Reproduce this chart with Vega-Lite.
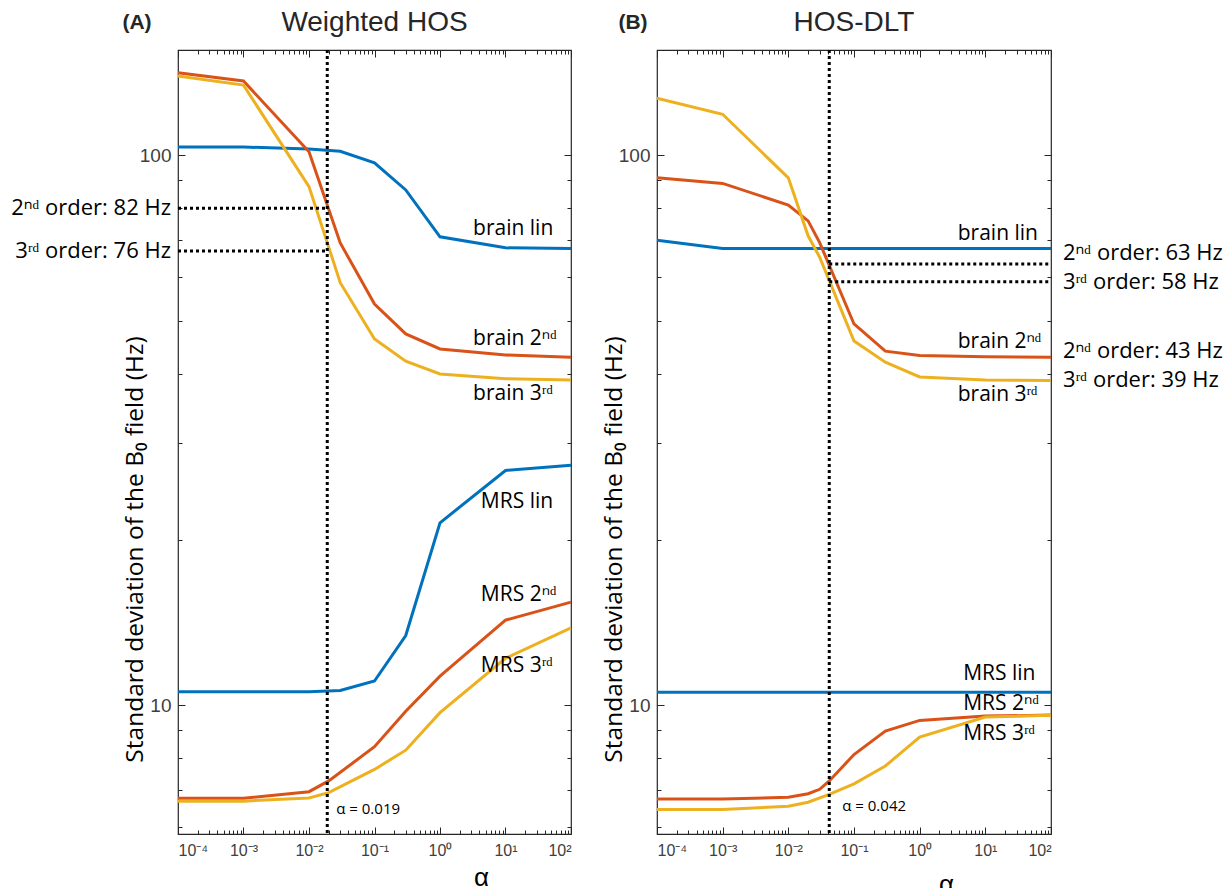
{
  "$schema": "https://vega.github.io/schema/vega-lite/v6.json",
  "background": "white",
  "padding": {"left": 10, "top": 8, "right": 0, "bottom": 0},
  "spacing": 22,
  "config": {
    "view": {"stroke": "#262626", "strokeWidth": 1.2},
    "axis": {"grid": false, "domain": false, "tickColor": "#262626", "tickWidth": 1, "labelColor": "#404040", "labelFont": "Liberation Sans", "titleFont": "Open Sans", "titleFontWeight": "normal", "titleColor": "#000000"}
  },
  "datasets": {
    "curvesA": [
      {"alpha": 0.0001, "sd": 103.4, "series": "brain lin"}, {"alpha": 0.001, "sd": 103.4, "series": "brain lin"}, {"alpha": 0.01, "sd": 102.5, "series": "brain lin"}, {"alpha": 0.03, "sd": 101.6, "series": "brain lin"}, {"alpha": 0.1, "sd": 96.8, "series": "brain lin"}, {"alpha": 0.3, "sd": 86.4, "series": "brain lin"}, {"alpha": 1, "sd": 71.0, "series": "brain lin"}, {"alpha": 10, "sd": 67.8, "series": "brain lin"}, {"alpha": 100, "sd": 67.6, "series": "brain lin"},
      {"alpha": 0.0001, "sd": 141.1, "series": "brain 2nd"}, {"alpha": 0.001, "sd": 136.3, "series": "brain 2nd"}, {"alpha": 0.01, "sd": 101.4, "series": "brain 2nd"}, {"alpha": 0.03, "sd": 69.2, "series": "brain 2nd"}, {"alpha": 0.1, "sd": 53.6, "series": "brain 2nd"}, {"alpha": 0.3, "sd": 47.3, "series": "brain 2nd"}, {"alpha": 1, "sd": 44.4, "series": "brain 2nd"}, {"alpha": 10, "sd": 43.3, "series": "brain 2nd"}, {"alpha": 100, "sd": 42.9, "series": "brain 2nd"},
      {"alpha": 0.0001, "sd": 139.2, "series": "brain 3rd"}, {"alpha": 0.001, "sd": 134.0, "series": "brain 3rd"}, {"alpha": 0.01, "sd": 87.6, "series": "brain 3rd"}, {"alpha": 0.03, "sd": 58.6, "series": "brain 3rd"}, {"alpha": 0.1, "sd": 46.3, "series": "brain 3rd"}, {"alpha": 0.3, "sd": 42.2, "series": "brain 3rd"}, {"alpha": 1, "sd": 40.0, "series": "brain 3rd"}, {"alpha": 10, "sd": 39.2, "series": "brain 3rd"}, {"alpha": 100, "sd": 39.0, "series": "brain 3rd"},
      {"alpha": 0.0001, "sd": 10.57, "series": "MRS lin"}, {"alpha": 0.001, "sd": 10.57, "series": "MRS lin"}, {"alpha": 0.01, "sd": 10.57, "series": "MRS lin"}, {"alpha": 0.03, "sd": 10.63, "series": "MRS lin"}, {"alpha": 0.1, "sd": 11.06, "series": "MRS lin"}, {"alpha": 0.3, "sd": 13.38, "series": "MRS lin"}, {"alpha": 1, "sd": 21.45, "series": "MRS lin"}, {"alpha": 10, "sd": 26.7, "series": "MRS lin"}, {"alpha": 100, "sd": 27.3, "series": "MRS lin"},
      {"alpha": 0.0001, "sd": 6.77, "series": "MRS 2nd"}, {"alpha": 0.001, "sd": 6.77, "series": "MRS 2nd"}, {"alpha": 0.01, "sd": 6.96, "series": "MRS 2nd"}, {"alpha": 0.02, "sd": 7.28, "series": "MRS 2nd"}, {"alpha": 0.1, "sd": 8.40, "series": "MRS 2nd"}, {"alpha": 0.3, "sd": 9.75, "series": "MRS 2nd"}, {"alpha": 1, "sd": 11.29, "series": "MRS 2nd"}, {"alpha": 10, "sd": 14.27, "series": "MRS 2nd"}, {"alpha": 100, "sd": 15.39, "series": "MRS 2nd"},
      {"alpha": 0.0001, "sd": 6.69, "series": "MRS 3rd"}, {"alpha": 0.001, "sd": 6.69, "series": "MRS 3rd"}, {"alpha": 0.01, "sd": 6.78, "series": "MRS 3rd"}, {"alpha": 0.02, "sd": 6.93, "series": "MRS 3rd"}, {"alpha": 0.1, "sd": 7.64, "series": "MRS 3rd"}, {"alpha": 0.3, "sd": 8.28, "series": "MRS 3rd"}, {"alpha": 1, "sd": 9.69, "series": "MRS 3rd"}, {"alpha": 10, "sd": 12.16, "series": "MRS 3rd"}, {"alpha": 100, "sd": 13.82, "series": "MRS 3rd"}
    ],
    "curvesB": [
      {"alpha": 0.0001, "sd": 70.0, "series": "brain lin"}, {"alpha": 0.001, "sd": 67.6, "series": "brain lin"}, {"alpha": 0.01, "sd": 67.6, "series": "brain lin"}, {"alpha": 0.1, "sd": 67.6, "series": "brain lin"}, {"alpha": 1, "sd": 67.6, "series": "brain lin"}, {"alpha": 10, "sd": 67.6, "series": "brain lin"}, {"alpha": 100, "sd": 67.6, "series": "brain lin"},
      {"alpha": 0.0001, "sd": 90.9, "series": "brain 2nd"}, {"alpha": 0.001, "sd": 88.8, "series": "brain 2nd"}, {"alpha": 0.01, "sd": 81.1, "series": "brain 2nd"}, {"alpha": 0.02, "sd": 75.9, "series": "brain 2nd"}, {"alpha": 0.03, "sd": 69.3, "series": "brain 2nd"}, {"alpha": 0.1, "sd": 49.3, "series": "brain 2nd"}, {"alpha": 0.3, "sd": 44.0, "series": "brain 2nd"}, {"alpha": 1, "sd": 43.2, "series": "brain 2nd"}, {"alpha": 10, "sd": 43.0, "series": "brain 2nd"}, {"alpha": 100, "sd": 42.9, "series": "brain 2nd"},
      {"alpha": 0.0001, "sd": 126.8, "series": "brain 3rd"}, {"alpha": 0.001, "sd": 118.6, "series": "brain 3rd"}, {"alpha": 0.01, "sd": 90.9, "series": "brain 3rd"}, {"alpha": 0.02, "sd": 71.3, "series": "brain 3rd"}, {"alpha": 0.03, "sd": 65.2, "series": "brain 3rd"}, {"alpha": 0.1, "sd": 45.9, "series": "brain 3rd"}, {"alpha": 0.3, "sd": 42.0, "series": "brain 3rd"}, {"alpha": 1, "sd": 39.5, "series": "brain 3rd"}, {"alpha": 10, "sd": 39.0, "series": "brain 3rd"}, {"alpha": 100, "sd": 38.9, "series": "brain 3rd"},
      {"alpha": 0.0001, "sd": 10.55, "series": "MRS lin"}, {"alpha": 0.001, "sd": 10.55, "series": "MRS lin"}, {"alpha": 0.01, "sd": 10.55, "series": "MRS lin"}, {"alpha": 0.1, "sd": 10.55, "series": "MRS lin"}, {"alpha": 1, "sd": 10.55, "series": "MRS lin"}, {"alpha": 10, "sd": 10.55, "series": "MRS lin"}, {"alpha": 100, "sd": 10.55, "series": "MRS lin"},
      {"alpha": 0.0001, "sd": 6.75, "series": "MRS 2nd"}, {"alpha": 0.001, "sd": 6.75, "series": "MRS 2nd"}, {"alpha": 0.01, "sd": 6.80, "series": "MRS 2nd"}, {"alpha": 0.02, "sd": 6.90, "series": "MRS 2nd"}, {"alpha": 0.03, "sd": 7.03, "series": "MRS 2nd"}, {"alpha": 0.042, "sd": 7.28, "series": "MRS 2nd"}, {"alpha": 0.1, "sd": 8.13, "series": "MRS 2nd"}, {"alpha": 0.3, "sd": 8.97, "series": "MRS 2nd"}, {"alpha": 1, "sd": 9.38, "series": "MRS 2nd"}, {"alpha": 10, "sd": 9.55, "series": "MRS 2nd"}, {"alpha": 100, "sd": 9.59, "series": "MRS 2nd"},
      {"alpha": 0.0001, "sd": 6.46, "series": "MRS 3rd"}, {"alpha": 0.001, "sd": 6.46, "series": "MRS 3rd"}, {"alpha": 0.01, "sd": 6.55, "series": "MRS 3rd"}, {"alpha": 0.02, "sd": 6.66, "series": "MRS 3rd"}, {"alpha": 0.042, "sd": 6.88, "series": "MRS 3rd"}, {"alpha": 0.1, "sd": 7.19, "series": "MRS 3rd"}, {"alpha": 0.3, "sd": 7.75, "series": "MRS 3rd"}, {"alpha": 1, "sd": 8.75, "series": "MRS 3rd"}, {"alpha": 10, "sd": 9.51, "series": "MRS 3rd"}, {"alpha": 100, "sd": 9.58, "series": "MRS 3rd"}
    ],
    "vlineA": [{"alpha": 0.019}],
    "vlineB": [{"alpha": 0.042}],
    "hlineA": [{"a1": 0.0001, "a2": 0.019, "sd": 80.0}, {"a1": 0.0001, "a2": 0.019, "sd": 66.9}],
    "hlineB": [{"a1": 0.042, "a2": 100, "sd": 63.4}, {"a1": 0.042, "a2": 100, "sd": 58.8}],
    "labelsA": [
      {"alpha": 3.2, "sd": 73.4, "label": "brain lin"}, {"alpha": 3.2, "sd": 46.3, "label": "brain 2ⁿᵈ"}, {"alpha": 3.2, "sd": 36.8, "label": "brain 3ʳᵈ"},
      {"alpha": 4.2, "sd": 23.4, "label": "MRS lin"}, {"alpha": 4.2, "sd": 15.85, "label": "MRS 2ⁿᵈ"}, {"alpha": 4.2, "sd": 11.8, "label": "MRS 3ʳᵈ"}
    ],
    "labelsB": [
      {"alpha": 3.8, "sd": 71.8, "label": "brain lin"}, {"alpha": 3.8, "sd": 45.7, "label": "brain 2ⁿᵈ"}, {"alpha": 3.8, "sd": 36.6, "label": "brain 3ʳᵈ"},
      {"alpha": 4.6, "sd": 11.4, "label": "MRS lin"}, {"alpha": 4.6, "sd": 10.04, "label": "MRS 2ⁿᵈ"}, {"alpha": 4.6, "sd": 8.85, "label": "MRS 3ʳᵈ"}
    ],
    "alphaA": [{"alpha": 0.019, "sd": 6.47, "label": "α = 0.019"}],
    "alphaB": [{"alpha": 0.042, "sd": 6.55, "label": "α = 0.042"}],
    "sideA": [{"alpha": 0.0001, "sd": 80.0, "label": "2ⁿᵈ order: 82 Hz"}, {"alpha": 0.0001, "sd": 66.9, "label": "3ʳᵈ order: 76 Hz"}],
    "sideB": [{"alpha": 100, "sd": 66.4, "label": "2ⁿᵈ order: 63 Hz"}, {"alpha": 100, "sd": 58.8, "label": "3ʳᵈ order: 58 Hz"}, {"alpha": 100, "sd": 44.0, "label": "2ⁿᵈ order: 43 Hz"}, {"alpha": 100, "sd": 39.0, "label": "3ʳᵈ order: 39 Hz"}],
    "panelA": [{"alpha": 0.0001, "sd": 155.2, "label": "(A)"}],
    "panelB": [{"alpha": 0.0001, "sd": 155.2, "label": "(B)"}],
    "titleA": [{"alpha": 0.1, "sd": 155.2, "label": "Weighted HOS"}],
    "titleB": [{"alpha": 0.1, "sd": 155.2, "label": "HOS-DLT"}]
  },
  "hconcat": [
    {
      "width": 393, "height": 784,
      "resolve": {"axis": {"x": "independent", "y": "independent"}},
      "layer": [
        {
          "data": {"name": "curvesA"},
          "mark": {"type": "line", "strokeWidth": 3},
          "encoding": {
            "x": {"field": "alpha", "type": "quantitative", "scale": {"type": "log", "domain": [0.0001, 100], "nice": false},
              "axis": {"orient": "bottom", "values": [0.0001, 0.001, 0.01, 0.1, 1, 10, 100], "labelExpr": "datum.value < 0.0005 ? '10⁻⁴' : datum.value < 0.005 ? '10⁻³' : datum.value < 0.05 ? '10⁻²' : datum.value < 0.5 ? '10⁻¹' : datum.value < 5 ? '10⁰' : datum.value < 50 ? '10¹' : '10²'", "tickSize": -7, "labelPadding": 15, "labelFontSize": 16, "title": "α", "titleFont": "Liberation Sans", "titleFontSize": 26, "titleX": 303, "titleY": 51, "titleAlign": "center", "titleBaseline": "alphabetic"}},
            "y": {"field": "sd", "type": "quantitative", "scale": {"type": "log", "domain": [5.83, 155.2], "nice": false},
              "axis": {"orient": "left", "values": [10, 100], "format": "d", "tickSize": -7, "labelPadding": 14, "labelFontSize": 19, "title": "Standard deviation of the B₀ field (Hz)", "titleFontSize": 24.5, "titleAngle": -90, "titleX": -43, "titleY": 499, "titleAlign": "center", "titleBaseline": "middle"}},
            "color": {"field": "series", "type": "nominal", "legend": null,
              "scale": {"domain": ["brain lin", "brain 2nd", "brain 3rd", "MRS lin", "MRS 2nd", "MRS 3rd"], "range": ["#0072BD", "#D95319", "#EDB120", "#0072BD", "#D95319", "#EDB120"]}}
          }
        },
        {
          "data": {"name": "vlineA"},
          "mark": {"type": "rule", "strokeWidth": 3, "strokeDash": [3, 3], "color": "#000000"},
          "encoding": {
            "x": {"field": "alpha", "type": "quantitative", "scale": {"type": "log", "domain": [0.0001, 100], "nice": false},
              "axis": {"orient": "bottom", "values": [0.0002,0.0003,0.0004,0.0005,0.0006,0.0007,0.0008,0.0009,0.002,0.003,0.004,0.005,0.006,0.007,0.008,0.009,0.02,0.03,0.04,0.05,0.06,0.07,0.08,0.09,0.2,0.3,0.4,0.5,0.6,0.7,0.8,0.9,2,3,4,5,6,7,8,9,20,30,40,50,60,70,80,90], "labels": false, "tickSize": -4, "title": null}}
          }
        },
        {
          "data": {"name": "hlineA"},
          "mark": {"type": "rule", "strokeWidth": 3, "strokeDash": [3, 3], "color": "#000000"},
          "encoding": {
            "x": {"field": "a1", "type": "quantitative", "scale": {"type": "log", "domain": [0.0001, 100], "nice": false},
              "axis": {"orient": "top", "values": [0.0001, 0.001, 0.01, 0.1, 1, 10, 100], "labels": false, "tickSize": -7, "title": null}},
            "x2": {"field": "a2"},
            "y": {"field": "sd", "type": "quantitative", "scale": {"type": "log", "domain": [5.83, 155.2], "nice": false},
              "axis": {"orient": "left", "values": [6, 7, 8, 9, 20, 30, 40, 50, 60, 70, 80, 90], "labels": false, "tickSize": -4, "title": null}}
          }
        },
        {
          "data": {"name": "labelsA"},
          "mark": {"type": "text", "font": "Open Sans", "fontSize": 21, "align": "left", "baseline": "middle", "color": "#000000"},
          "encoding": {
            "x": {"field": "alpha", "type": "quantitative", "scale": {"type": "log", "domain": [0.0001, 100], "nice": false},
              "axis": {"orient": "top", "values": [0.0002,0.0003,0.0004,0.0005,0.0006,0.0007,0.0008,0.0009,0.002,0.003,0.004,0.005,0.006,0.007,0.008,0.009,0.02,0.03,0.04,0.05,0.06,0.07,0.08,0.09,0.2,0.3,0.4,0.5,0.6,0.7,0.8,0.9,2,3,4,5,6,7,8,9,20,30,40,50,60,70,80,90], "labels": false, "tickSize": -4, "title": null}},
            "y": {"field": "sd", "type": "quantitative", "scale": {"type": "log", "domain": [5.83, 155.2], "nice": false},
              "axis": {"orient": "right", "values": [10, 100], "labels": false, "tickSize": -7, "title": null}},
            "text": {"field": "label"}
          }
        },
        {
          "data": {"name": "alphaA"},
          "mark": {"type": "text", "font": "Open Sans", "fontSize": 15, "align": "left", "baseline": "middle", "dx": 9, "color": "#000000"},
          "encoding": {
            "x": {"field": "alpha", "type": "quantitative", "scale": {"type": "log", "domain": [0.0001, 100], "nice": false}, "axis": null},
            "y": {"field": "sd", "type": "quantitative", "scale": {"type": "log", "domain": [5.83, 155.2], "nice": false},
              "axis": {"orient": "right", "values": [6, 7, 8, 9, 20, 30, 40, 50, 60, 70, 80, 90], "labels": false, "tickSize": -4, "title": null}},
            "text": {"field": "label"}
          }
        },
        {
          "data": {"name": "sideA"},
          "mark": {"type": "text", "font": "Open Sans", "fontSize": 22, "align": "right", "baseline": "middle", "dx": -7, "color": "#000000"},
          "encoding": {
            "x": {"field": "alpha", "type": "quantitative", "scale": {"type": "log", "domain": [0.0001, 100], "nice": false}, "axis": null},
            "y": {"field": "sd", "type": "quantitative", "scale": {"type": "log", "domain": [5.83, 155.2], "nice": false}, "axis": null},
            "text": {"field": "label"}
          }
        },
        {
          "data": {"name": "panelA"},
          "mark": {"type": "text", "font": "Liberation Sans", "fontSize": 21, "fontWeight": "bold", "align": "center", "baseline": "middle", "dx": -41, "dy": -27, "color": "#262626"},
          "encoding": {
            "x": {"field": "alpha", "type": "quantitative", "scale": {"type": "log", "domain": [0.0001, 100], "nice": false}, "axis": null},
            "y": {"field": "sd", "type": "quantitative", "scale": {"type": "log", "domain": [5.83, 155.2], "nice": false}, "axis": null},
            "text": {"field": "label"}
          }
        },
        {
          "data": {"name": "titleA"},
          "mark": {"type": "text", "font": "Liberation Sans", "fontSize": 28, "align": "center", "baseline": "middle", "dy": -27, "color": "#262626"},
          "encoding": {
            "x": {"field": "alpha", "type": "quantitative", "scale": {"type": "log", "domain": [0.0001, 100], "nice": false}, "axis": null},
            "y": {"field": "sd", "type": "quantitative", "scale": {"type": "log", "domain": [5.83, 155.2], "nice": false}, "axis": null},
            "text": {"field": "label"}
          }
        }
      ]
    },
    {
      "width": 394, "height": 784,
      "resolve": {"axis": {"x": "independent", "y": "independent"}},
      "layer": [
        {
          "data": {"name": "curvesB"},
          "mark": {"type": "line", "strokeWidth": 3},
          "encoding": {
            "x": {"field": "alpha", "type": "quantitative", "scale": {"type": "log", "domain": [0.0001, 100], "nice": false},
              "axis": {"orient": "bottom", "values": [0.0001, 0.001, 0.01, 0.1, 1, 10, 100], "labelExpr": "datum.value < 0.0005 ? '10⁻⁴' : datum.value < 0.005 ? '10⁻³' : datum.value < 0.05 ? '10⁻²' : datum.value < 0.5 ? '10⁻¹' : datum.value < 5 ? '10⁰' : datum.value < 50 ? '10¹' : '10²'", "tickSize": -7, "labelPadding": 15, "labelFontSize": 16, "title": "α", "titleFont": "Liberation Sans", "titleFontSize": 26, "titleX": 289, "titleY": 58, "titleAlign": "center", "titleBaseline": "alphabetic"}},
            "y": {"field": "sd", "type": "quantitative", "scale": {"type": "log", "domain": [5.83, 155.2], "nice": false},
              "axis": {"orient": "left", "values": [10, 100], "format": "d", "tickSize": -7, "labelPadding": 14, "labelFontSize": 19, "title": "Standard deviation of the B₀ field (Hz)", "titleFontSize": 24.5, "titleAngle": -90, "titleX": -43, "titleY": 499, "titleAlign": "center", "titleBaseline": "middle"}},
            "color": {"field": "series", "type": "nominal", "legend": null,
              "scale": {"domain": ["brain lin", "brain 2nd", "brain 3rd", "MRS lin", "MRS 2nd", "MRS 3rd"], "range": ["#0072BD", "#D95319", "#EDB120", "#0072BD", "#D95319", "#EDB120"]}}
          }
        },
        {
          "data": {"name": "vlineB"},
          "mark": {"type": "rule", "strokeWidth": 3, "strokeDash": [3, 3], "color": "#000000"},
          "encoding": {
            "x": {"field": "alpha", "type": "quantitative", "scale": {"type": "log", "domain": [0.0001, 100], "nice": false},
              "axis": {"orient": "bottom", "values": [0.0002,0.0003,0.0004,0.0005,0.0006,0.0007,0.0008,0.0009,0.002,0.003,0.004,0.005,0.006,0.007,0.008,0.009,0.02,0.03,0.04,0.05,0.06,0.07,0.08,0.09,0.2,0.3,0.4,0.5,0.6,0.7,0.8,0.9,2,3,4,5,6,7,8,9,20,30,40,50,60,70,80,90], "labels": false, "tickSize": -4, "title": null}}
          }
        },
        {
          "data": {"name": "hlineB"},
          "mark": {"type": "rule", "strokeWidth": 3, "strokeDash": [3, 3], "color": "#000000"},
          "encoding": {
            "x": {"field": "a1", "type": "quantitative", "scale": {"type": "log", "domain": [0.0001, 100], "nice": false},
              "axis": {"orient": "top", "values": [0.0001, 0.001, 0.01, 0.1, 1, 10, 100], "labels": false, "tickSize": -7, "title": null}},
            "x2": {"field": "a2"},
            "y": {"field": "sd", "type": "quantitative", "scale": {"type": "log", "domain": [5.83, 155.2], "nice": false},
              "axis": {"orient": "left", "values": [6, 7, 8, 9, 20, 30, 40, 50, 60, 70, 80, 90], "labels": false, "tickSize": -4, "title": null}}
          }
        },
        {
          "data": {"name": "labelsB"},
          "mark": {"type": "text", "font": "Open Sans", "fontSize": 21, "align": "left", "baseline": "middle", "color": "#000000"},
          "encoding": {
            "x": {"field": "alpha", "type": "quantitative", "scale": {"type": "log", "domain": [0.0001, 100], "nice": false},
              "axis": {"orient": "top", "values": [0.0002,0.0003,0.0004,0.0005,0.0006,0.0007,0.0008,0.0009,0.002,0.003,0.004,0.005,0.006,0.007,0.008,0.009,0.02,0.03,0.04,0.05,0.06,0.07,0.08,0.09,0.2,0.3,0.4,0.5,0.6,0.7,0.8,0.9,2,3,4,5,6,7,8,9,20,30,40,50,60,70,80,90], "labels": false, "tickSize": -4, "title": null}},
            "y": {"field": "sd", "type": "quantitative", "scale": {"type": "log", "domain": [5.83, 155.2], "nice": false},
              "axis": {"orient": "right", "values": [10, 100], "labels": false, "tickSize": -7, "title": null}},
            "text": {"field": "label"}
          }
        },
        {
          "data": {"name": "alphaB"},
          "mark": {"type": "text", "font": "Open Sans", "fontSize": 15, "align": "left", "baseline": "middle", "dx": 13, "color": "#000000"},
          "encoding": {
            "x": {"field": "alpha", "type": "quantitative", "scale": {"type": "log", "domain": [0.0001, 100], "nice": false}, "axis": null},
            "y": {"field": "sd", "type": "quantitative", "scale": {"type": "log", "domain": [5.83, 155.2], "nice": false},
              "axis": {"orient": "right", "values": [6, 7, 8, 9, 20, 30, 40, 50, 60, 70, 80, 90], "labels": false, "tickSize": -4, "title": null}},
            "text": {"field": "label"}
          }
        },
        {
          "data": {"name": "sideB"},
          "mark": {"type": "text", "font": "Open Sans", "fontSize": 22, "align": "left", "baseline": "middle", "dx": 12, "color": "#000000"},
          "encoding": {
            "x": {"field": "alpha", "type": "quantitative", "scale": {"type": "log", "domain": [0.0001, 100], "nice": false}, "axis": null},
            "y": {"field": "sd", "type": "quantitative", "scale": {"type": "log", "domain": [5.83, 155.2], "nice": false}, "axis": null},
            "text": {"field": "label"}
          }
        },
        {
          "data": {"name": "panelB"},
          "mark": {"type": "text", "font": "Liberation Sans", "fontSize": 21, "fontWeight": "bold", "align": "center", "baseline": "middle", "dx": -24, "dy": -27, "color": "#262626"},
          "encoding": {
            "x": {"field": "alpha", "type": "quantitative", "scale": {"type": "log", "domain": [0.0001, 100], "nice": false}, "axis": null},
            "y": {"field": "sd", "type": "quantitative", "scale": {"type": "log", "domain": [5.83, 155.2], "nice": false}, "axis": null},
            "text": {"field": "label"}
          }
        },
        {
          "data": {"name": "titleB"},
          "mark": {"type": "text", "font": "Liberation Sans", "fontSize": 28, "align": "center", "baseline": "middle", "dy": -27, "color": "#262626"},
          "encoding": {
            "x": {"field": "alpha", "type": "quantitative", "scale": {"type": "log", "domain": [0.0001, 100], "nice": false}, "axis": null},
            "y": {"field": "sd", "type": "quantitative", "scale": {"type": "log", "domain": [5.83, 155.2], "nice": false}, "axis": null},
            "text": {"field": "label"}
          }
        }
      ]
    }
  ]
}
